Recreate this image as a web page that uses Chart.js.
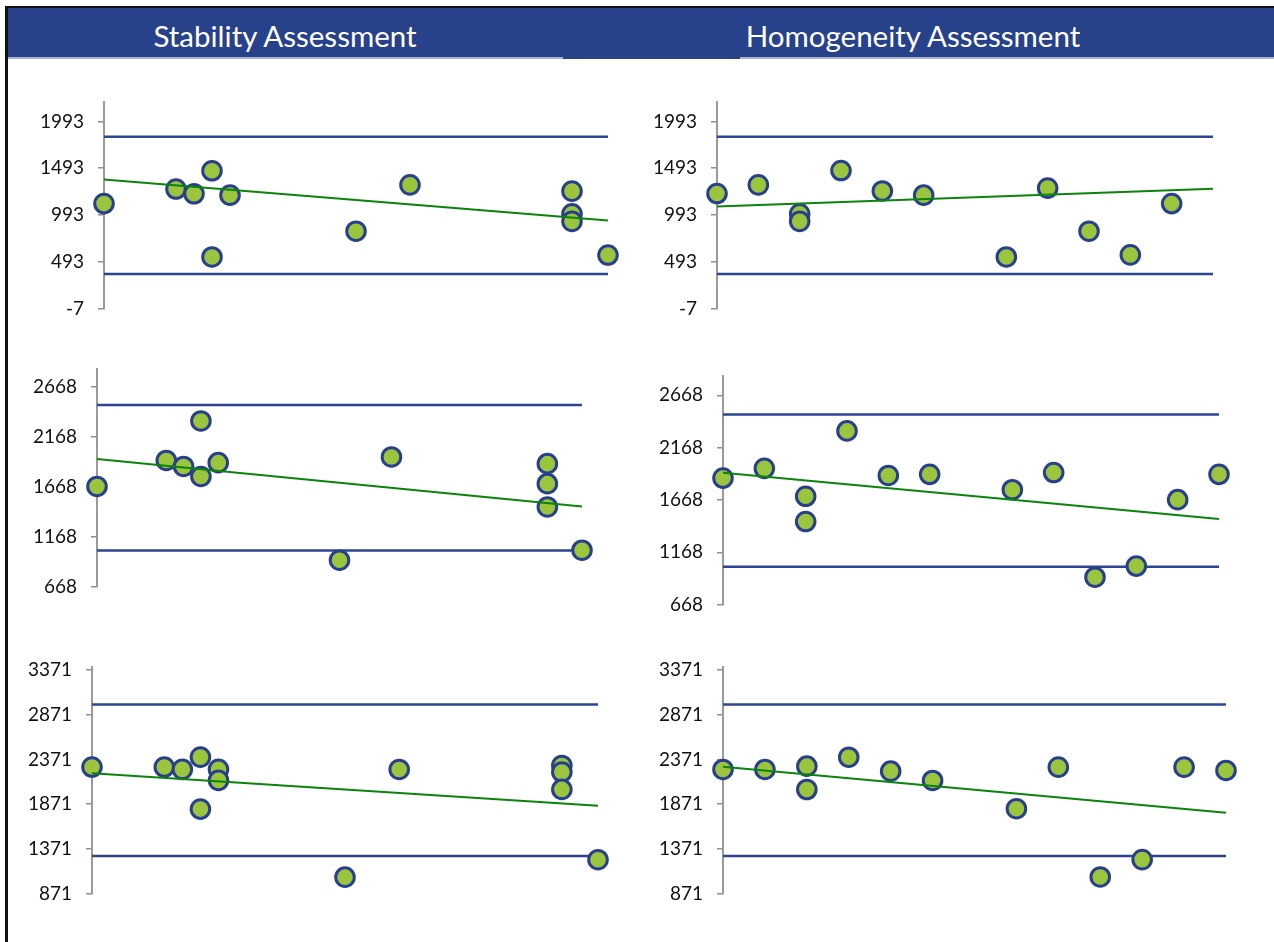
<!DOCTYPE html>
<html>
<head>
<meta charset="utf-8">
<script src="https://cdn.jsdelivr.net/npm/chart.js@4.4.0/dist/chart.umd.min.js"></script>
<style>
  html, body { margin: 0; padding: 0; background: #fff; }
  body { width: 1274px; height: 942px; position: relative; overflow: hidden; font-family: Lato, "Open Sans", sans-serif; }
  #frame { position: absolute; left: 5px; top: 6px; width: 1269px; height: 936px; border-left: 3px solid #111; border-top: 2px solid #111; box-sizing: border-box; }
  #header { position: absolute; left: 8px; top: 8px; width: 1266px; height: 49px; background: #27418a; border-bottom: 2px solid #a7b3d3; }
  #tab { position: absolute; left: 563px; top: 57px; width: 177px; height: 2px; background: #27418a; }
  .title { position: absolute; top: 11px; height: 49px; line-height: 49px; color: #fff; font-size: 29.5px; white-space: nowrap; transform: translateX(-50%); }
  .panel { position: absolute; }
</style>
</head>
<body>
<div id="frame"></div>
<div id="header"></div>
<div id="tab"></div>
<div class="title" style="left:285px">Stability Assessment</div>
<div class="title" style="left:913px">Homogeneity Assessment</div>

<script>
// x positions: stability in weeks, homogeneity by sample number
var stabWeeks12 = [0, 4, 5, 6, 6, 7, 14, 17, 26, 26, 26, 28];
var stabWeeks13 = [0, 4, 5, 6, 6, 7, 7, 14, 17, 26, 26, 26, 28];
var homSamples12 = [0, 1, 2, 2, 3, 4, 5, 7, 8, 9, 10, 11];
var homSamples13 = [0, 1, 2, 2, 3, 4, 5, 7, 8, 9, 10, 11, 12];

// measured values
var stab1 = [1115, 1270, 1220, 1465, 545, 1205, 820, 1315, 1248, 1005, 925, 565];
var hom1 = [1222, 1315, 1005, 925, 1468, 1250, 1205, 545, 1280, 820, 567, 1115];
var stab2 = [1670, 1930, 1870, 2325, 1770, 1908, 932, 1965, 1898, 1698, 1465, 1032];
var hom2 = [1877, 1970, 1703, 1462, 2328, 1902, 1913, 1766, 1930, 930, 1036, 1671, 1913];
var stab3 = [2286, 2286, 2260, 2397, 1816, 2260, 2137, 1055, 2259, 2304, 2230, 2036, 1250];
var hom3 = [2259, 2259, 2296, 2035, 2396, 2240, 2136, 1820, 2285, 1057, 1251, 2285, 2248];

// control limits [lower, upper]
var limits1 = [362, 1830];
var limits2 = [1030, 2485];
var limits3 = [1291, 2984];

// trend line [start, end]
var trendStab1 = [1373, 933];
var trendHom1 = [1083, 1274];
var trendStab2 = [1945, 1470];
var trendHom2 = [1928, 1485];
var trendStab3 = [2216, 1852];
var trendHom3 = [2288, 1775];

// tick labels
var ticks1 = [-7, 493, 993, 1493, 1993];
var ticks2 = [668, 1168, 1668, 2168, 2668];
var ticks3 = [871, 1371, 1871, 2371, 2871, 3371];

Chart.defaults.font.family = "Lato";
Chart.defaults.font.size = 19;

var AXIS_W = 80, PAD_T = 12, PAD_B = 12, PAD_R = 14;

var panels = [
  { area: [104, 102, 608, 308], xr: [0, 28], yr: [-7, 2196], ticks: ticks1, xs: stabWeeks12, ys: stab1, lim: limits1, trend: trendStab1 },
  { area: [717, 102, 1213, 308], xr: [0, 12], yr: [-7, 2196], ticks: ticks1, xs: homSamples12, ys: hom1, lim: limits1, trend: trendHom1 },
  { area: [97, 369, 582, 586], xr: [0, 28], yr: [668, 2841], ticks: ticks2, xs: stabWeeks12, ys: stab2, lim: limits2, trend: trendStab2 },
  { area: [723, 376, 1219, 604], xr: [0, 12], yr: [668, 2849], ticks: ticks2, xs: homSamples13, ys: hom2, lim: limits2, trend: trendHom2 },
  { area: [92, 667, 598, 893], xr: [0, 28], yr: [871, 3400], ticks: ticks3, xs: stabWeeks13, ys: stab3, lim: limits3, trend: trendStab3 },
  { area: [723, 667, 1226, 893], xr: [0, 12], yr: [871, 3400], ticks: ticks3, xs: homSamples13, ys: hom3, lim: limits3, trend: trendHom3 }
];

function hline(x0, x1, y) {
  return [{ x: x0, y: y }, { x: x1, y: y }];
}

function configurar(p) {
  var pts = p.xs.map(function (x, k) { return { x: x, y: p.ys[k] }; });
  var lineStyle = { type: "scatter", showLine: true, pointRadius: 0, borderWidth: 2.5, borderColor: "#2d4590", clip: false };
  return {
    type: "scatter",
    data: {
      datasets: [
        Object.assign({}, lineStyle, { data: hline(p.xr[0], p.xr[1], p.lim[1]), order: 3 }),
        Object.assign({}, lineStyle, { data: hline(p.xr[0], p.xr[1], p.lim[0]), order: 3 }),
        {
          data: pts,
          pointRadius: 9.3,
          pointBorderWidth: 3,
          borderWidth: 3,
          pointBackgroundColor: "#9ac53c",
          pointBorderColor: "#283f8e",
          backgroundColor: "#9ac53c",
          borderColor: "#283f8e",
          clip: false,
          order: 2
        },
        {
          type: "scatter",
          showLine: true,
          data: [{ x: p.xr[0], y: p.trend[0] }, { x: p.xr[1], y: p.trend[1] }],
          pointRadius: 0,
          borderWidth: 2,
          borderColor: "#0a840a",
          clip: false,
          order: 1
        }
      ]
    },
    options: {
      responsive: false,
      maintainAspectRatio: false,
      animation: false,
      events: [],
      layout: { padding: { top: PAD_T, bottom: PAD_B, left: 0, right: PAD_R } },
      plugins: { legend: { display: false }, tooltip: { enabled: false }, title: { display: false } },
      scales: {
        x: { type: "linear", display: false, min: p.xr[0], max: p.xr[1] },
        y: {
          type: "linear",
          min: p.yr[0],
          max: p.yr[1],
          afterBuildTicks: function (s) { s.ticks = p.ticks.map(function (v) { return { value: v }; }); },
          afterFit: function (s) { s.width = AXIS_W; },
          ticks: {
            padding: 14,
            color: "#111",
            font: { family: "Lato", size: 19 },
            callback: function (v) { return String(v); }
          },
          grid: { display: true, drawOnChartArea: false, drawTicks: true, tickLength: 6, color: "#8f8f8f", lineWidth: 1.5 },
          border: { display: true, color: "#9a9a9a", width: 2 }
        }
      }
    }
  };
}

function pintar(p) {
  var w = p.area[2] - p.area[0], h = p.area[3] - p.area[1];
  var div = document.createElement("div");
  div.className = "panel";
  document.body.appendChild(div);

  // first pass: find how much room the axis and labels take
  var cv = document.createElement("canvas");
  cv.width = AXIS_W + w + PAD_R;
  cv.height = h + PAD_T + PAD_B;
  div.appendChild(cv);
  var tmp = new Chart(cv.getContext("2d"), configurar(p));
  var ca = tmp.chartArea;
  var inT = ca.top, inL = ca.left, inB = cv.height - ca.bottom, inR = cv.width - ca.right;
  tmp.destroy();
  div.removeChild(cv);

  // second pass: size the canvas so the plot area lands on the target box
  var cv2 = document.createElement("canvas");
  cv2.width = Math.round(inL + w + inR);
  cv2.height = Math.round(inT + h + inB);
  div.style.left = Math.round(p.area[0] - inL) + "px";
  div.style.top = Math.round(p.area[1] - inT) + "px";
  div.appendChild(cv2);
  new Chart(cv2.getContext("2d"), configurar(p));
}

panels.forEach(pintar);
</script>
</body>
</html>
